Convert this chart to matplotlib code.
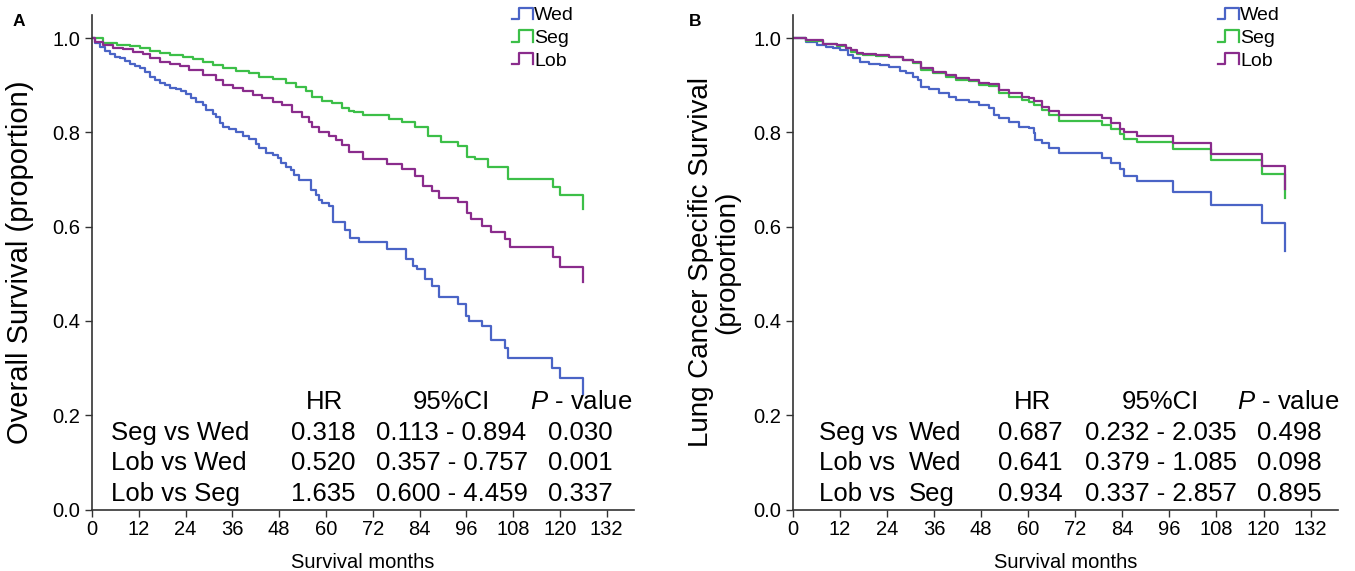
import numpy as np
import matplotlib
matplotlib.use("Agg")
import matplotlib.pyplot as plt
from matplotlib.lines import Line2D
from matplotlib.legend_handler import HandlerBase

plt.rcParams['font.family'] = ['Liberation Sans', 'DejaVu Sans']
plt.rcParams['mathtext.fontset'] = 'custom'
plt.rcParams['mathtext.rm'] = 'Liberation Sans'
plt.rcParams['mathtext.it'] = 'Liberation Sans:italic'

# ---- panel A: overall survival (months, proportion) ----
a_wed_t = [0, 0.8, 2.0, 3.3, 4.6, 5.9, 7.2, 8.4, 9.7, 11.0, 12.3, 13.5, 14.8, 16.1, 17.4, 18.6,
           19.9, 21.6, 22.9, 24.2, 25.5, 26.7, 28.4, 29.3, 31.0, 31.8, 32.7, 33.5, 35.2, 36.9,
           38.6, 40.3, 42.0, 42.9, 44.6, 46.3, 47.6, 48.4, 49.7, 51.0, 51.8, 53.1, 56.1, 57.4,
           58.2, 59.1, 60.8, 61.7, 65.0, 66.1, 68.4, 75.6, 80.6, 82.2, 83.3, 85.5, 87.2,
           88.9, 93.8, 96.0, 96.6, 100.0, 102.2, 106.0, 106.6, 118.0, 119.9, 125.8]
a_wed_s = [1.0, 0.989, 0.982, 0.973, 0.966, 0.960, 0.957, 0.952, 0.946, 0.941, 0.936, 0.929, 0.918,
           0.911, 0.905, 0.900, 0.895, 0.891, 0.888, 0.881, 0.872, 0.865, 0.858, 0.847, 0.839, 0.832,
           0.819, 0.812, 0.808, 0.801, 0.792, 0.785, 0.776, 0.766, 0.757, 0.752, 0.745, 0.734, 0.727,
           0.720, 0.710, 0.699, 0.678, 0.667, 0.657, 0.650, 0.643, 0.609, 0.592, 0.577, 0.567, 0.553,
           0.531, 0.517, 0.510, 0.489, 0.475, 0.450, 0.435, 0.410, 0.400, 0.390, 0.360, 0.343, 0.322,
           0.300, 0.278, 0.244]

a_seg_t = [0, 2.9, 6.3, 9.7, 12.3, 14.8, 17.4, 19.9, 23.3, 25.9, 28.4, 31.0, 33.5, 36.9, 40.3,
           42.9, 46.3, 49.7, 52.3, 54.8, 56.5, 59.1, 61.6, 64.2, 65.9, 67.3, 69.5, 76.1, 79.4,
           82.8, 86.1, 89.4, 93.8, 96.1, 98.3, 101.6, 106.6, 118.2, 119.9, 125.8]
a_seg_s = [1.0, 0.990, 0.985, 0.983, 0.978, 0.973, 0.969, 0.964, 0.960, 0.955, 0.950, 0.943, 0.936,
           0.931, 0.925, 0.918, 0.913, 0.904, 0.896, 0.887, 0.876, 0.867, 0.862, 0.851, 0.846, 0.843,
           0.836, 0.829, 0.822, 0.811, 0.793, 0.779, 0.772, 0.747, 0.744, 0.726, 0.701, 0.684, 0.667,
           0.638]

a_lob_t = [0, 0.8, 2.9, 5.5, 8.0, 10.6, 13.1, 14.8, 17.4, 19.9, 22.5, 25.0, 28.4, 31.8, 33.5,
           36.1, 38.6, 41.2, 43.7, 46.3, 48.8, 51.4, 53.9, 55.7, 56.5, 58.2, 60.8, 62.5, 64.2,
           65.9, 69.5, 75.6, 79.4, 82.8, 85.0, 87.2, 88.9, 93.8, 96.1, 97.2, 100.0, 102.2, 106.0,
           107.1, 118.2, 119.9, 125.8]
a_lob_s = [1.0, 0.992, 0.985, 0.980, 0.976, 0.971, 0.966, 0.957, 0.950, 0.946, 0.941, 0.932, 0.921,
           0.911, 0.900, 0.895, 0.888, 0.879, 0.872, 0.865, 0.858, 0.844, 0.832, 0.823, 0.812, 0.801,
           0.792, 0.784, 0.774, 0.759, 0.744, 0.733, 0.722, 0.708, 0.687, 0.676, 0.660, 0.652, 0.630,
           0.616, 0.602, 0.588, 0.574, 0.556, 0.535, 0.514, 0.482]

# ---- panel B: lung cancer specific survival ----
b_wed_t = [0, 3.4, 6.0, 8.5, 10.2, 11.9, 14.1, 15.3, 17.0, 19.5, 22.1, 24.6, 27.2, 28.9, 30.5,
           31.8, 32.7, 34.8, 37.3, 39.8, 41.5, 44.9, 47.5, 50.0, 51.3, 52.5, 55.1, 57.6, 60.2,
           61.4, 61.8, 63.5, 65.2, 67.9, 78.9, 81.1, 83.3, 84.4, 87.7, 97.0, 106.5, 119.6, 125.6]
b_wed_s = [1.0, 0.992, 0.985, 0.982, 0.978, 0.974, 0.964, 0.957, 0.950, 0.946, 0.943, 0.938, 0.931,
           0.925, 0.918, 0.911, 0.897, 0.891, 0.883, 0.876, 0.869, 0.865, 0.858, 0.851, 0.837, 0.830,
           0.823, 0.812, 0.809, 0.798, 0.784, 0.777, 0.766, 0.756, 0.745, 0.735, 0.722, 0.708, 0.696,
           0.674, 0.645, 0.608, 0.548]

b_seg_t = [0, 3.4, 7.7, 11.1, 13.6, 14.9, 16.2, 17.9, 21.2, 24.6, 28.0, 30.5, 32.7, 35.6, 39.0,
           41.5, 44.9, 47.5, 50.0, 52.5, 55.1, 58.5, 60.2, 61.4, 63.5, 65.2, 67.9, 78.9, 81.1,
           83.3, 84.4, 87.7, 97.0, 106.5, 119.6, 125.6]
b_seg_s = [1.0, 0.994, 0.987, 0.983, 0.978, 0.971, 0.967, 0.964, 0.962, 0.959, 0.953, 0.948, 0.932,
           0.925, 0.918, 0.912, 0.910, 0.900, 0.898, 0.883, 0.876, 0.869, 0.865, 0.858, 0.847, 0.837,
           0.825, 0.816, 0.807, 0.797, 0.786, 0.779, 0.765, 0.742, 0.712, 0.661]

b_lob_t = [0, 3.4, 7.7, 11.1, 13.6, 14.9, 16.2, 17.9, 21.2, 24.6, 28.0, 30.5, 32.7, 35.6, 39.0,
           41.5, 44.9, 47.5, 50.0, 52.5, 55.1, 58.5, 60.2, 61.4, 63.5, 65.2, 67.9, 78.9, 81.1,
           83.3, 84.4, 87.7, 97.0, 106.5, 119.6, 125.6]
b_lob_s = [1.0, 0.995, 0.988, 0.985, 0.980, 0.974, 0.968, 0.966, 0.964, 0.960, 0.954, 0.950, 0.936,
           0.928, 0.921, 0.916, 0.912, 0.905, 0.902, 0.890, 0.883, 0.874, 0.872, 0.867, 0.854, 0.846,
           0.837, 0.830, 0.820, 0.807, 0.800, 0.792, 0.778, 0.754, 0.728, 0.680]

groups = ['Wed', 'Seg', 'Lob']
colors = ['#4a64c6', '#3cbf48', '#8a2c8c']

# ---- Cox tables ----
a_comp = ['Seg vs Wed', 'Lob vs Wed', 'Lob vs Seg']
a_hr = ['0.318', '0.520', '1.635']
a_ci = ['0.113 - 0.894', '0.357 - 0.757', '0.600 - 4.459']
a_p = ['0.030', '0.001', '0.337']

b_comp1 = ['Seg vs', 'Lob vs', 'Lob vs']
b_comp2 = ['Wed', 'Wed', 'Seg']
b_hr = ['0.687', '0.641', '0.934']
b_ci = ['0.232 - 2.035', '0.379 - 1.085', '0.337 - 2.857']
b_p = ['0.498', '0.098', '0.895']

xticks = np.arange(0, 133, 12)
yticks = [0.0, 0.2, 0.4, 0.6, 0.8, 1.0]


class StepHandler(HandlerBase):
    # draws the little "_|-|" step glyph used in the legend
    def create_artists(self, legend, orig_handle, xdescent, ydescent, width, height, fontsize, trans):
        xs = np.array([0.0, 0.35, 0.35, 1.0, 1.0]) * width - xdescent
        ys = np.array([0.05, 0.05, 0.95, 0.95, 0.05]) * height - ydescent
        ln = Line2D(xs, ys, color=orig_handle.get_color(), lw=orig_handle.get_linewidth(),
                    transform=trans)
        return [ln]


fig = plt.figure(figsize=(13.55, 5.71), dpi=100)
W, H = 1355, 571
axA = fig.add_axes([92 / W, 1 - 509.5 / H, (634 - 92) / W, (509.5 - 15) / H])
axB = fig.add_axes([793 / W, 1 - 509.5 / H, (1338 - 793) / W, (509.5 - 15) / H])

curvesA = [(a_wed_t, a_wed_s), (a_seg_t, a_seg_s), (a_lob_t, a_lob_s)]
curvesB = [(b_wed_t, b_wed_s), (b_seg_t, b_seg_s), (b_lob_t, b_lob_s)]

for ax, curves in [(axA, curvesA), (axB, curvesB)]:
    for (t, s), g, c in zip(curves, groups, colors):
        ax.step(t, s, where='post', color=c, lw=1.6, label=g)
    ax.set_xlim(0, 139)
    ax.set_ylim(0, 1.049)
    ax.set_xticks(xticks)
    ax.set_yticks(yticks)
    ax.set_yticklabels(['%.1f' % v for v in yticks])
    ax.spines['top'].set_visible(False)
    ax.spines['right'].set_visible(False)
    for sp in ['left', 'bottom']:
        ax.spines[sp].set_linewidth(1.2)
        ax.spines[sp].set_color('#333333')
    ax.tick_params(axis='both', direction='out', length=5, width=1.0, color='#333333')
    ax.tick_params(axis='y', labelsize=14.5, pad=3.5)
    ax.tick_params(axis='x', labelsize=14.5, pad=2.5)
    ax.set_xlabel('Survival months', fontsize=14.5, labelpad=10)

axA.set_ylabel('Overall Survival (proportion)', fontsize=21, labelpad=13)
axB.set_ylabel('Lung Cancer Specific Survival\n(proportion)', fontsize=20, labelpad=9,
               linespacing=1.05)

for ax, x0 in [(axA, 512), (axB, 1218)]:
    fig.legend(handles=ax.get_lines(), labels=groups, loc='upper left',
               bbox_to_anchor=(x0 / W, 1 - 7 / H), frameon=False, fontsize=14,
               handlelength=1.1, handleheight=0.6, handletextpad=0.05, labelspacing=0.3,
               borderpad=0, borderaxespad=0, handler_map={Line2D: StepHandler()})

rows_y = [0.163, 0.098, 0.032]
head_y = 0.227
fs = 18.5

# table A
axA.text(59.5, head_y, 'HR', ha='center', va='center', fontsize=fs)
axA.text(92.2, head_y, '95%CI', ha='center', va='center', fontsize=fs)
axA.text(112.3, head_y, r'$\it{P}$ - value', ha='left', va='center', fontsize=fs)
for i in range(3):
    axA.text(5.0, rows_y[i], a_comp[i], ha='left', va='center', fontsize=fs)
    axA.text(59.3, rows_y[i], a_hr[i], ha='center', va='center', fontsize=fs)
    axA.text(92.2, rows_y[i], a_ci[i], ha='center', va='center', fontsize=fs)
    axA.text(125.3, rows_y[i], a_p[i], ha='center', va='center', fontsize=fs)

# table B
axB.text(61.2, head_y, 'HR', ha='center', va='center', fontsize=fs)
axB.text(93.8, head_y, '95%CI', ha='center', va='center', fontsize=fs)
axB.text(113.3, head_y, r'$\it{P}$ - value', ha='left', va='center', fontsize=fs)
for i in range(3):
    axB.text(6.6, rows_y[i], b_comp1[i], ha='left', va='center', fontsize=fs)
    axB.text(29.5, rows_y[i], b_comp2[i], ha='left', va='center', fontsize=fs)
    axB.text(60.6, rows_y[i], b_hr[i], ha='center', va='center', fontsize=fs)
    axB.text(93.8, rows_y[i], b_ci[i], ha='center', va='center', fontsize=fs)
    axB.text(126.7, rows_y[i], b_p[i], ha='center', va='center', fontsize=fs)

fig.text(13 / W, 1 - 22 / H, 'A', fontsize=12.5, fontweight='bold', ha='left', va='center')
fig.text(689 / W, 1 - 22 / H, 'B', fontsize=12.5, fontweight='bold', ha='left', va='center')

fig.savefig('out.png', dpi=100)
